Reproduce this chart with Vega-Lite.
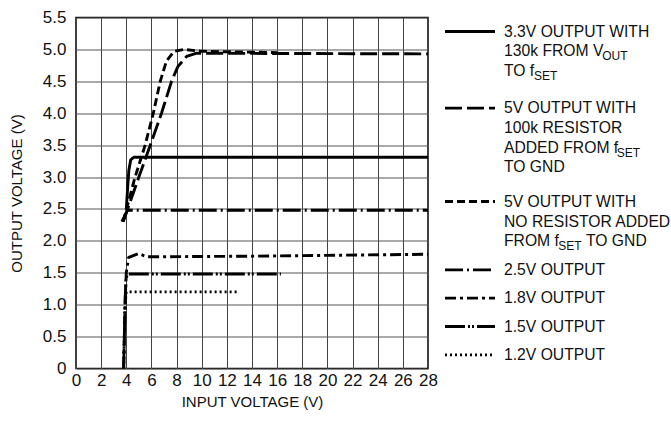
{
  "$schema": "https://vega.github.io/schema/vega-lite/v6.json",
  "padding": {"left": 9, "top": 7.5, "right": 0, "bottom": 0},
  "spacing": 12,
  "bounds": "flush",
  "config": {
    "font": "Liberation Sans",
    "view": {"stroke": null},
    "axis": {"labelFont": "Liberation Sans", "titleFont": "Liberation Sans", "labelColor": "#111", "titleColor": "#111", "titleFontWeight": "normal"}
  },
  "datasets": {
    "curves": [
      {"s": "3.3V", "vin": 4.0, "vout": 2.5},
      {"s": "3.3V", "vin": 4.2, "vout": 3.1},
      {"s": "3.3V", "vin": 4.35, "vout": 3.27},
      {"s": "3.3V", "vin": 4.6, "vout": 3.31},
      {"s": "3.3V", "vin": 28, "vout": 3.31},
      {"s": "5V100k", "vin": 3.75, "vout": 2.3},
      {"s": "5V100k", "vin": 5.0, "vout": 3.0},
      {"s": "5V100k", "vin": 6.0, "vout": 3.55},
      {"s": "5V100k", "vin": 6.8, "vout": 4.0},
      {"s": "5V100k", "vin": 7.6, "vout": 4.5},
      {"s": "5V100k", "vin": 8.1, "vout": 4.73},
      {"s": "5V100k", "vin": 8.8, "vout": 4.89},
      {"s": "5V100k", "vin": 9.6, "vout": 4.94},
      {"s": "5V100k", "vin": 28, "vout": 4.93},
      {"s": "5Vnone", "vin": 3.75, "vout": 2.3},
      {"s": "5Vnone", "vin": 4.7, "vout": 3.0},
      {"s": "5Vnone", "vin": 5.5, "vout": 3.5},
      {"s": "5Vnone", "vin": 6.15, "vout": 4.0},
      {"s": "5Vnone", "vin": 6.7, "vout": 4.5},
      {"s": "5Vnone", "vin": 7.2, "vout": 4.82},
      {"s": "5Vnone", "vin": 7.8, "vout": 4.97},
      {"s": "5Vnone", "vin": 8.6, "vout": 5.0},
      {"s": "5Vnone", "vin": 10, "vout": 4.97},
      {"s": "5Vnone", "vin": 16, "vout": 4.95},
      {"s": "2.5V", "vin": 3.65, "vout": 2.3},
      {"s": "2.5V", "vin": 4.1, "vout": 2.48},
      {"s": "2.5V", "vin": 28, "vout": 2.48},
      {"s": "1.8V", "vin": 3.79, "vout": 0},
      {"s": "1.8V", "vin": 3.92, "vout": 1.1},
      {"s": "1.8V", "vin": 4.0, "vout": 1.5},
      {"s": "1.8V", "vin": 4.19, "vout": 1.74},
      {"s": "1.8V", "vin": 4.98, "vout": 1.8},
      {"s": "1.8V", "vin": 5.65, "vout": 1.75},
      {"s": "1.8V", "vin": 14, "vout": 1.76},
      {"s": "1.8V", "vin": 28, "vout": 1.79},
      {"s": "1.5V", "vin": 3.79, "vout": 0},
      {"s": "1.5V", "vin": 3.9, "vout": 1.0},
      {"s": "1.5V", "vin": 3.97, "vout": 1.4},
      {"s": "1.5V", "vin": 4.1, "vout": 1.48},
      {"s": "1.5V", "vin": 16.3, "vout": 1.48},
      {"s": "1.2V", "vin": 3.79, "vout": 0},
      {"s": "1.2V", "vin": 3.9, "vout": 1.0},
      {"s": "1.2V", "vin": 4.0, "vout": 1.2},
      {"s": "1.2V", "vin": 12.9, "vout": 1.2}
    ],
    "symbols": [
      {"s": "3.3V", "x": 5, "x2": 55, "row": 14},
      {"s": "5V100k", "x": 5, "x2": 55, "row": 90.7},
      {"s": "5Vnone", "x": 5, "x2": 55, "row": 184},
      {"s": "2.5V", "x": 5, "x2": 55, "row": 252.3},
      {"s": "1.8V", "x": 5, "x2": 55, "row": 280.7},
      {"s": "1.5V", "x": 5, "x2": 55, "row": 309},
      {"s": "1.2V", "x": 5, "x2": 55, "row": 337.3}
    ],
    "texts": [
      {"t": "3.3V OUTPUT WITH", "x": 64, "row": 14},
      {"t": "130k FROM V", "x": 64, "row": 33.3},
      {"t": "TO f", "x": 64, "row": 53.3},
      {"t": "5V OUTPUT WITH", "x": 64, "row": 90.7},
      {"t": "100k RESISTOR", "x": 64, "row": 110},
      {"t": "ADDED FROM f", "x": 64, "row": 130},
      {"t": "TO GND", "x": 64, "row": 149},
      {"t": "5V OUTPUT WITH", "x": 64, "row": 184},
      {"t": "NO RESISTOR ADDED", "x": 64, "row": 204},
      {"t": "FROM f", "x": 64, "row": 223.3},
      {"t": "TO GND", "x": 146, "row": 223.3},
      {"t": "2.5V OUTPUT", "x": 64, "row": 252.3},
      {"t": "1.8V OUTPUT", "x": 64, "row": 280.7},
      {"t": "1.5V OUTPUT", "x": 64, "row": 309},
      {"t": "1.2V OUTPUT", "x": 64, "row": 337.3}
    ],
    "subs": [
      {"t": "OUT", "x": 162.2, "row": 33.3},
      {"t": "SET", "x": 94.1, "row": 53.3},
      {"t": "SET", "x": 176.8, "row": 130},
      {"t": "SET", "x": 118.3, "row": 223.3}
    ]
  },
  "hconcat": [
    {
      "width": 352,
      "height": 351,
      "view": {"stroke": "#000", "strokeWidth": 1.5},
      "data": {"name": "curves"},
      "mark": {"type": "line", "strokeWidth": 2.9, "color": "#000", "strokeCap": "butt", "strokeJoin": "round", "clip": true},
      "encoding": {
        "x": {
          "field": "vin", "type": "quantitative",
          "scale": {"domain": [0, 28], "nice": false, "zero": false},
          "axis": {
            "title": "INPUT VOLTAGE (V)", "values": [0,2,4,6,8,10,12,14,16,18,20,22,24,26,28],
            "grid": true, "gridColor": "#444", "gridWidth": 1, "gridOpacity": 1,
            "domain": false, "ticks": false, "tickSize": 0,
            "labelFontSize": 17, "labelPadding": 4, "labelFlush": false,
            "titleFontSize": 15, "titlePadding": 6
          }
        },
        "y": {
          "field": "vout", "type": "quantitative",
          "scale": {"domain": [0, 5.5], "nice": false},
          "axis": {
            "title": "OUTPUT VOLTAGE (V)", "values": [0,0.5,1,1.5,2,2.5,3,3.5,4,4.5,5,5.5],
            "labelExpr": "datum.value == 0 ? '0' : format(datum.value, '.1f')",
            "grid": true, "gridColor": "#555", "gridWidth": 1, "gridOpacity": 1,
            "domain": false, "ticks": false, "tickSize": 0,
            "labelFontSize": 17, "labelPadding": 10, "labelFlush": false,
            "titleFontSize": 15, "titlePadding": 17.5
          }
        },
        "detail": {"field": "s"},
        "strokeDash": {
          "field": "s", "type": "nominal", "legend": null,
          "scale": {
            "domain": ["3.3V", "5V100k", "5Vnone", "2.5V", "1.8V", "1.5V", "1.2V"],
            "range": [[1, 0], [17, 5], [8, 4], [18, 4, 2, 4], [11, 4, 3, 4], [20, 3, 2, 2, 2, 3], [2, 3]]
          }
        }
      }
    },
    {
      "width": 226,
      "height": 351,
      "view": {"stroke": null},
      "layer": [
        {
          "data": {"name": "symbols"},
          "mark": {"type": "rule", "strokeWidth": 2.8, "color": "#000", "strokeCap": "butt"},
          "encoding": {
            "x": {"field": "x", "type": "quantitative", "scale": {"domain": [0, 226], "nice": false, "zero": false}, "axis": null},
            "x2": {"field": "x2"},
            "y": {"field": "row", "type": "quantitative", "scale": {"domain": [351, 0], "nice": false, "zero": false}, "axis": null},
            "strokeDash": {
              "field": "s", "type": "nominal", "legend": null,
              "scale": {
                "domain": ["3.3V", "5V100k", "5Vnone", "2.5V", "1.8V", "1.5V", "1.2V"],
                "range": [[1, 0], [17, 5], [8, 4], [18, 4, 2, 4], [11, 4, 3, 4], [20, 3, 2, 2, 2, 3], [2, 3]]
              }
            }
          }
        },
        {
          "data": {"name": "texts"},
          "mark": {"type": "text", "align": "left", "baseline": "middle", "fontSize": 15.7, "color": "#111", "font": "Liberation Sans"},
          "encoding": {
            "x": {"field": "x", "type": "quantitative", "scale": {"domain": [0, 226], "nice": false, "zero": false}, "axis": null},
            "y": {"field": "row", "type": "quantitative", "scale": {"domain": [351, 0], "nice": false, "zero": false}, "axis": null},
            "text": {"field": "t"}
          }
        },
        {
          "data": {"name": "subs"},
          "mark": {"type": "text", "align": "left", "baseline": "middle", "fontSize": 12, "dy": 5, "color": "#111", "font": "Liberation Sans"},
          "encoding": {
            "x": {"field": "x", "type": "quantitative", "scale": {"domain": [0, 226], "nice": false, "zero": false}, "axis": null},
            "y": {"field": "row", "type": "quantitative", "scale": {"domain": [351, 0], "nice": false, "zero": false}, "axis": null},
            "text": {"field": "t"}
          }
        }
      ]
    }
  ]
}
